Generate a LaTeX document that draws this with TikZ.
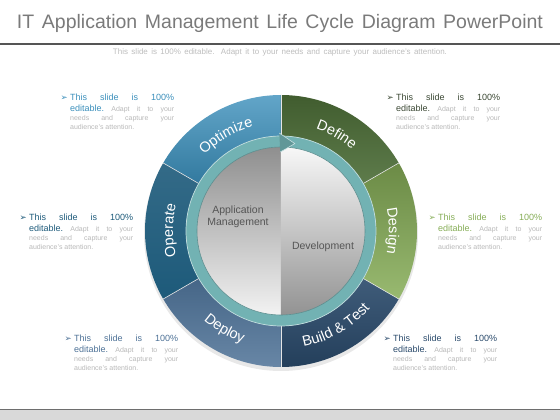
\documentclass[tikz,border=0pt]{standalone}
\usepackage{fontspec}
\setmainfont{Liberation Sans}
\newfontfamily\dingfont{DejaVu Sans}
\usetikzlibrary{decorations.text}

\definecolor{titlegray}{HTML}{7A7A7A}
\definecolor{subgray}{HTML}{BDBDBD}
\definecolor{rulegray}{HTML}{555555}
\definecolor{footgray}{HTML}{D9D9D9}
\definecolor{notegray}{HTML}{B8B8B8}
\definecolor{ringteal}{HTML}{72B2B3}
\definecolor{optblue}{HTML}{3B8FBB}
\definecolor{opdark}{HTML}{1D5A7A}
\definecolor{depblue}{HTML}{4D7196}
\definecolor{buildnavy}{HTML}{2A4A6B}
\definecolor{desgreen}{HTML}{86AD57}
\definecolor{defdark}{HTML}{3A4733}
\definecolor{defgreen}{HTML}{4C6D37}

\newcommand\leadfont{\fontsize{9}{9}\selectfont}
\newcommand\notefont{\fontsize{7}{7}\selectfont}
\def\ringpart(#1:#2)[#3][#4]{\shade[top color=#3, bottom color=#4] (#1:136) arc (#1:#2:136) -- (#2:95) arc (#2:#1:95) -- cycle;}
\def\bandlabel(#1:#2:#3)#4{\path[decorate, decoration={text along path, text align=center, text color=white, text={|\fontsize{14.5}{14.5}\selectfont|#4}}] (#1:#3) arc (#1:#2:#3);}
\newcommand\blurb[1]{\vtop{\hsize=104pt\lineskiplimit=-\maxdimen
  \baselineskip=11pt
  \hbox to\hsize{\leadfont\color{#1}\llap{{\dingfont\fontsize{8.5}{8.5}\selectfont ➢}\hskip2.5pt}This\hfill slide\hfill is\hfill 100\%}
  \baselineskip=11.5pt
  \hbox to\hsize{\leadfont\color{#1}editable.\hfill\notefont\color{notegray}Adapt\hfill it\hfill to\hfill your}
  \baselineskip=9pt
  \hbox to\hsize{\notefont\color{notegray}needs\hfill and\hfill capture\hfill your}
  \baselineskip=8.5pt
  \hbox{\notefont\color{notegray}audience's attention.}}}

\begin{document}
\begin{tikzpicture}[x=1pt, y=1pt,
		blurb/.style={anchor=base west, inner sep=0pt},
		hubtext/.style={inner sep=0pt, align=center, text=rulegray, font=\fontsize{10.5}{12}\selectfont}]
		%%%%% START %%%%%
		\useasboundingbox (-281,-189) rectangle (279,231);
		
		% header
		\node[anchor=base, inner sep=0pt, text=titlegray] (title) at (-1,202) {\fontsize{19.5}{19.5}\selectfont\makebox[526pt][s]{IT Application Management Life Cycle Diagram PowerPoint}};
		\draw[rulegray, line width=1.8pt] (-281,187.3) -- (279,187.3);
		\node[anchor=base, inner sep=0pt, text=subgray] (subtitle) at (-1,176.5) {\fontsize{8}{8}\selectfont\makebox[334pt][s]{This slide is 100\% editable. Adapt it to your needs and capture your audience's attention.}};
		
		% footer
		\fill[footgray] (-281,-189) rectangle (279,-179);
		\draw[rulegray!85, line width=1.5pt] (-281,-178.3) -- (279,-178.3);
		
		% wheel
		\fill[black!9] (0,-3) circle (137);
		\ringpart(90:150)[optblue!80!white][optblue!85!black]
		\ringpart(150:210)[opdark!90!white][opdark]
		\ringpart(210:270)[depblue!90!black][depblue!85!white]
		\ringpart(270:330)[buildnavy!90!white][buildnavy!85!black]
		\ringpart(330:390)[desgreen!80!black][desgreen!85!white]
		\ringpart(30:90)[defgreen!85!black][defgreen!90!white]
		\foreach \a in {30,90,...,330}
			\draw[white!80!gray, line width=0.6pt] (\a:95) -- (\a:136);
		
		\fill[ringteal, even odd rule] (0,0) circle (95) (0,0) circle (84);
		\draw[white!55!ringteal, line width=0.7pt] (0,0) circle (95);
		\shade[top color=gray!88, bottom color=gray!10] (90:84) arc (90:270:84) -- cycle;
		\shade[top color=gray!6, bottom color=gray!85] (-90:84) arc (-90:90:84) -- cycle;
		\draw[ringteal!80!black, line width=0.6pt] (0,0) circle (84);
		
		\fill[ringteal!85!black] (91:98) -- (81:88.5) -- (90.5:79) -- cycle;
		\draw[white!60!ringteal, line width=0.6pt] (91:98) -- (81:88.5) -- (90.5:79);
		
		\node[hubtext] (appl) at (-43,14) {Application\\Management};
		\node[hubtext] (dev) at (42,-16) {Development};
		
		\bandlabel(150:90:108){Optimize}
		\bandlabel(90:30:108){Define}
		\bandlabel(30:-30:108){Design}
		\bandlabel(210:150:108){Operate}
		\bandlabel(210:270:118){Deploy}
		\bandlabel(270:330:118){Build {\&} Test}
		
		% notes
		\node[blurb] (noteTL) at (-211,130.7) {\blurb{optblue}};
		\node[blurb] (noteTR) at (115,130.7) {\blurb{defdark}};
		\node[blurb] (noteLM) at (-252,10.7) {\blurb{opdark}};
		\node[blurb] (noteRM) at (157,10.7) {\blurb{desgreen}};
		\node[blurb] (noteBL) at (-207,-110.3) {\blurb{depblue}};
		\node[blurb] (noteBR) at (112,-110.3) {\blurb{buildnavy}};
		%%%%% END %%%%%
	\end{tikzpicture}
\end{document}
